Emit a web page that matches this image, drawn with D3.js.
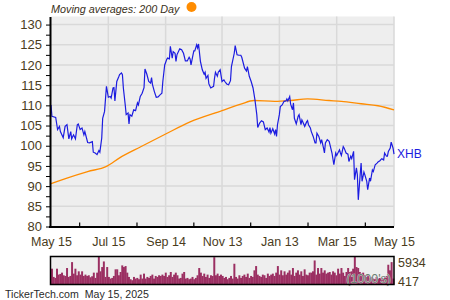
<!DOCTYPE html>
<html>
<head>
<meta charset="utf-8">
<script src="https://cdn.jsdelivr.net/npm/d3@7"></script>
<style>
  body { margin: 0; background: #fff; }
  text { font-family: "Liberation Sans", Arial, sans-serif; }
</style>
</head>
<body>
<svg id="chart" width="450" height="300"></svg>
<script>
'use strict';

// Chart data. Days are counted from May 15, 2024.
const symbol = 'XHB';
const startDate = new Date(2024, 4, 15);
const endDate = new Date(2025, 4, 15);
const tickDates = ['2024-05-15', '2024-07-15', '2024-09-14', '2024-11-13', '2025-01-13', '2025-03-15', '2025-05-15'];
const tickLabels = ['May 15', 'Jul 15', 'Sep 14', 'Nov 13', 'Jan 13', 'Mar 15', 'May 15'];

const price = [
  [0, 110.1], [1, 107.3], [5, 107.0], [7, 104.0], [9, 104.8], [10, 103.5], [13, 102.0], [15, 104.8],
  [17, 105.2], [19, 101.7], [21, 103.5], [22, 101.7], [24, 102.7], [26, 101.7], [28, 105.2], [29, 105.4],
  [31, 104.0], [33, 104.4], [35, 102.7], [36, 103.5], [39, 100.8], [41, 100.7], [44, 101.0], [45, 98.4],
  [47, 98.2], [49, 97.8], [51, 98.8], [52, 98.4], [54, 101.9], [55, 106.8], [57, 108.5], [59, 114.7],
  [61, 112.0], [63, 112.2], [64, 111.8], [66, 114.3], [67, 114.4], [68, 111.1], [70, 115.9], [72, 117.0],
  [73, 117.6], [75, 118.0], [76, 117.6], [77, 114.3], [79, 110.1], [80, 107.7], [82, 108.1], [83, 105.4],
  [84, 107.7], [86, 107.3], [88, 108.9], [90, 108.7], [92, 110.6], [93, 110.1], [95, 112.2], [97, 113.0],
  [99, 114.4], [100, 119.0], [102, 117.7], [104, 115.9], [106, 115.5], [107, 116.9], [108, 115.1], [110, 113.4],
  [112, 112.0], [114, 112.1], [116, 112.6], [118, 113.0], [119, 115.9], [121, 120.0], [123, 121.3], [124, 121.7],
  [126, 121.5], [127, 124.6], [129, 121.7], [130, 123.3], [132, 122.9], [133, 120.9], [134, 122.5], [137, 124.0],
  [139, 123.8], [141, 122.9], [143, 121.0], [145, 121.0], [147, 121.9], [148, 121.5], [149, 120.0], [151, 122.4],
  [152, 123.5], [153, 123.5], [155, 125.0], [156, 124.2], [157, 125.2], [159, 120.9], [161, 118.8], [163, 117.7],
  [164, 118.2], [165, 116.7], [167, 117.4], [168, 115.3], [170, 114.3], [173, 114.7], [174, 116.7], [175, 118.2],
  [177, 117.2], [178, 118.2], [180, 118.8], [182, 115.9], [184, 116.3], [185, 115.9], [187, 115.3], [189, 115.1],
  [191, 116.1], [192, 119.6], [195, 122.9], [196, 124.8], [198, 122.5], [200, 122.4], [202, 122.4], [203, 121.9],
  [206, 119.2], [208, 118.5], [209, 119.6], [211, 117.2], [213, 115.9], [215, 114.3], [217, 111.4], [219, 107.7],
  [220, 104.5], [222, 105.6], [224, 106.2], [226, 105.9], [228, 104.0], [230, 104.4], [232, 103.4], [233, 104.5],
  [234, 103.1], [236, 104.2], [238, 102.9], [239, 104.0], [240, 102.3], [241, 105.2], [243, 107.7], [244, 109.7],
  [246, 110.1], [248, 111.0], [250, 111.1], [251, 111.6], [252, 111.1], [254, 112.2], [255, 110.3], [257, 108.9],
  [258, 110.6], [259, 106.8], [261, 105.4], [263, 107.3], [264, 107.7], [266, 105.2], [267, 106.4], [268, 105.9],
  [270, 104.8], [272, 105.9], [273, 106.2], [274, 105.2], [276, 104.4], [277, 103.5], [279, 102.3], [281, 100.7],
  [282, 100.7], [283, 103.1], [285, 102.3], [287, 100.7], [288, 101.5], [290, 99.4], [291, 98.2], [292, 100.7],
  [294, 101.5], [296, 101.1], [299, 98.2], [301, 95.3], [303, 98.2], [304, 97.6], [307, 99.0], [308, 98.2],
  [309, 97.6], [311, 99.8], [312, 99.4], [314, 98.2], [316, 97.9], [317, 96.1], [319, 97.4], [320, 96.8],
  [322, 98.6], [323, 91.6], [325, 94.5], [326, 92.8], [327, 86.6], [329, 92.8], [330, 95.7], [331, 91.2],
  [333, 93.5], [334, 92.8], [336, 91.2], [337, 89.1], [339, 92.0], [340, 91.2], [342, 94.0], [343, 93.6],
  [345, 95.3], [347, 95.7], [348, 96.0], [350, 96.3], [352, 96.8], [354, 96.5], [355, 98.2], [357, 97.4],
  [358, 97.4], [359, 98.6], [361, 99.4], [362, 100.9], [364, 99.4], [365, 97.9]
];

const ma200 = [
  [0, 90.6], [17, 92.0], [39, 93.6], [59, 94.9], [73, 97.0], [96, 99.8], [122, 102.9], [148, 105.9],
  [182, 108.7], [202, 110.3], [216, 111.2], [238, 111.0], [255, 111.2], [273, 111.6], [296, 111.2],
  [309, 111.0], [330, 110.4], [348, 109.9], [365, 108.9]
];

// Volume in thousands, oldest first.
const volume = [
  3350, 1605, 1396, 3350, 2094, 2234, 2513, 1954, 1815, 3490, 1605, 1815, 4746, 2303, 3350, 1954,
  2792, 2094, 2792, 1815, 2094, 1815, 1954, 1536, 1745, 2513, 1396, 2513, 5934, 2792, 3699, 4886,
  1605, 3699, 1605, 1256, 1396, 1815, 3211, 3211, 1954, 2652, 4048, 3699, 3909, 2513, 1605, 1117,
  907, 1605, 1256, 1396, 1117, 2094, 1256, 2303, 1256, 1605, 1396, 1815, 2094, 1256, 1815, 1605,
  1954, 1815, 2094, 1815, 2513, 1605, 1954, 2652, 1605, 2094, 2513, 1954, 1256, 1396, 2303, 2652,
  1256, 1396, 1117, 1256, 1605, 1117, 1396, 1954, 3490, 2513, 1815, 2303, 1605, 2094, 1396, 1954,
  1815, 5790, 1954, 2303, 1815, 2094,
  1815, 1396, 1605, 1117, 1396, 1815, 1256, 4397, 1605, 1256, 1954, 1396, 1815, 2094, 1605, 2303,
  1396, 1815, 1605, 3001, 3909, 2094, 1815, 1605, 2094, 1954, 1396, 2303, 1815, 2094, 2303, 1815,
  2513, 3909, 2094, 3001, 1954, 2792, 2094, 2513, 3001, 2094, 3490, 1815, 2513, 3001, 2094, 2792,
  1815, 3211, 2094, 1954, 2513, 2513, 2792, 5095, 2094, 3490, 2303, 3490, 2513, 3001, 2303, 2513,
  2652, 2094, 2792, 2513, 1954, 3350, 2303, 3490, 2513, 1815, 2652, 3490, 2652, 2792, 3350, 5934,
  3699, 3490, 2652, 2303, 2513, 1954, 1605, 2094, 1396, 1605, 1256, 1117, 1605, 1256, 1396, 1117,
  1256, 1605, 1815, 4188, 3001, 4746, 1256
];
const volumeMax = 5934;
const volumeMin = 417;

const textColor = '#4a3c1c';
const svg = d3.select('#chart');

const plot = { left: 51, right: 394, top: 16.5, bottom: 226.5 };
const vol = { top: 256.5, bottom: 284.5 };

const toDate = day => d3.timeDay.offset(startDate, day);
const parse = d3.timeParse('%Y-%m-%d');
const ticks = tickDates.map(parse);

const x = d3.scaleTime()
  .domain([startDate, endDate])
  .range([plot.left, plot.right]);

const y = d3.scaleLinear()
  .domain([80, 132])
  .range([plot.bottom, plot.top]);

// Plot background and grid.
svg.append('rect')
  .attr('x', plot.left).attr('y', plot.top)
  .attr('width', plot.right - plot.left).attr('height', plot.bottom - plot.top)
  .attr('fill', '#eeeeee');

svg.append('g')
  .selectAll('line')
  .data(d3.range(85, 131, 5))
  .join('line')
  .attr('x1', plot.left).attr('x2', plot.right)
  .attr('y1', d => y(d)).attr('y2', d => y(d))
  .attr('stroke', '#d9d9d9').attr('stroke-width', 1.5);

svg.append('g')
  .selectAll('line')
  .data(ticks.slice(1))
  .join('line')
  .attr('x1', d => x(d)).attr('x2', d => x(d))
  .attr('y1', plot.top).attr('y2', plot.bottom)
  .attr('stroke', '#d9d9d9').attr('stroke-width', 1.5);

// Minor x ticks halfway between labelled dates, pointing up into the plot.
const minorTicks = d3.pairs(ticks).map(([a, b]) => new Date((+a + +b) / 2));
svg.append('g')
  .selectAll('line')
  .data(minorTicks)
  .join('line')
  .attr('x1', d => x(d)).attr('x2', d => x(d))
  .attr('y1', plot.bottom - 4).attr('y2', plot.bottom)
  .attr('stroke', '#000').attr('stroke-width', 1.2);

// Lines.
const line = d3.line()
  .x(d => x(toDate(d[0])))
  .y(d => y(d[1]));

svg.append('path')
  .datum(ma200)
  .attr('d', line.curve(d3.curveMonotoneX))
  .attr('fill', 'none')
  .attr('stroke', '#ff8c00')
  .attr('stroke-width', 1.3);

svg.append('path')
  .datum(price)
  .attr('d', line.curve(d3.curveLinear))
  .attr('fill', 'none')
  .attr('stroke', '#1c1ce0')
  .attr('stroke-width', 1.2);

svg.append('text')
  .attr('x', plot.right + 3)
  .attr('y', y(price[price.length - 1][1]))
  .attr('dy', '0.35em')
  .attr('font-size', 12)
  .attr('fill', '#1c1ce0')
  .text(symbol);

// Axes.
const yAxis = svg.append('g')
  .attr('transform', `translate(${plot.left - 1},0)`)
  .call(d3.axisLeft(y)
    .tickValues(d3.range(80, 131, 2.5))
    .tickSize(4)
    .tickSizeOuter(0)
    .tickPadding(4)
    .tickFormat(d => d % 5 === 0 ? d : ''));

const xAxis = svg.append('g')
  .attr('transform', `translate(0,${plot.bottom + 0.5})`)
  .call(d3.axisBottom(x)
    .tickValues(ticks)
    .tickSize(0)
    .tickSizeOuter(0)
    .tickPadding(10)
    .tickFormat((d, i) => tickLabels[i]));

[yAxis, xAxis].forEach(axis => {
  axis.select('.domain').attr('stroke', '#000').attr('stroke-width', 2);
  axis.selectAll('.tick line').attr('stroke', '#000');
  axis.selectAll('text')
    .attr('fill', textColor)
    .attr('font-family', '"Liberation Sans", Arial, sans-serif');
});
yAxis.selectAll('text').attr('font-size', 13);
xAxis.selectAll('text').attr('font-size', 12.5);
xAxis.select('.domain').attr('d', `M${plot.left - 2},0H${plot.right}`);

// Volume panel.
const xv = d3.scaleBand()
  .domain(d3.range(volume.length))
  .range([plot.left, plot.right]);

const yv = d3.scaleLinear()
  .domain([0, volumeMax])
  .range([vol.bottom, vol.top]);

svg.append('rect')
  .attr('x', plot.left).attr('y', vol.top)
  .attr('width', plot.right - plot.left).attr('height', vol.bottom - vol.top)
  .attr('fill', '#eeeeee');

svg.append('g')
  .selectAll('rect')
  .data(volume)
  .join('rect')
  .attr('x', (d, i) => xv(i))
  .attr('width', xv.bandwidth() + 0.3)
  .attr('y', d => yv(d))
  .attr('height', d => vol.bottom - yv(d))
  .attr('fill', '#9b2f62');

svg.append('text')
  .attr('x', plot.right - 3).attr('y', vol.bottom - 2)
  .attr('text-anchor', 'end')
  .attr('font-size', 12.5)
  .attr('fill', '#6f7f74')
  .attr('stroke', '#eeeeee').attr('stroke-width', 0.6).attr('paint-order', 'stroke')
  .text("(1000's)");

svg.append('rect')
  .attr('x', plot.left - 0.5).attr('y', vol.top)
  .attr('width', plot.right - plot.left + 0.5).attr('height', vol.bottom - vol.top)
  .attr('fill', 'none')
  .attr('stroke', '#000').attr('stroke-width', 1.5);

svg.append('g')
  .selectAll('text')
  .data([volumeMax, volumeMin])
  .join('text')
  .attr('x', plot.right + 4)
  .attr('y', (d, i) => i === 0 ? 263 : 282)
  .attr('dy', '0.35em')
  .attr('font-size', 12.5)
  .attr('fill', textColor)
  .text(d => d);

// Title and footer.
svg.append('text')
  .attr('x', plot.left).attr('y', 12.5)
  .attr('font-size', 10.8)
  .attr('font-style', 'italic')
  .attr('fill', '#3a3020')
  .text('Moving averages: 200 Day');

svg.append('circle')
  .attr('cx', 191.5).attr('cy', 7)
  .attr('r', 5)
  .attr('fill', '#ff8c00');

svg.append('text')
  .attr('x', 5).attr('y', 298)
  .attr('font-size', 10.6)
  .attr('fill', '#2a2a2a')
  .style('white-space', 'pre')
  .text('TickerTech.com  May 15, 2025');
</script>
</body>
</html>
